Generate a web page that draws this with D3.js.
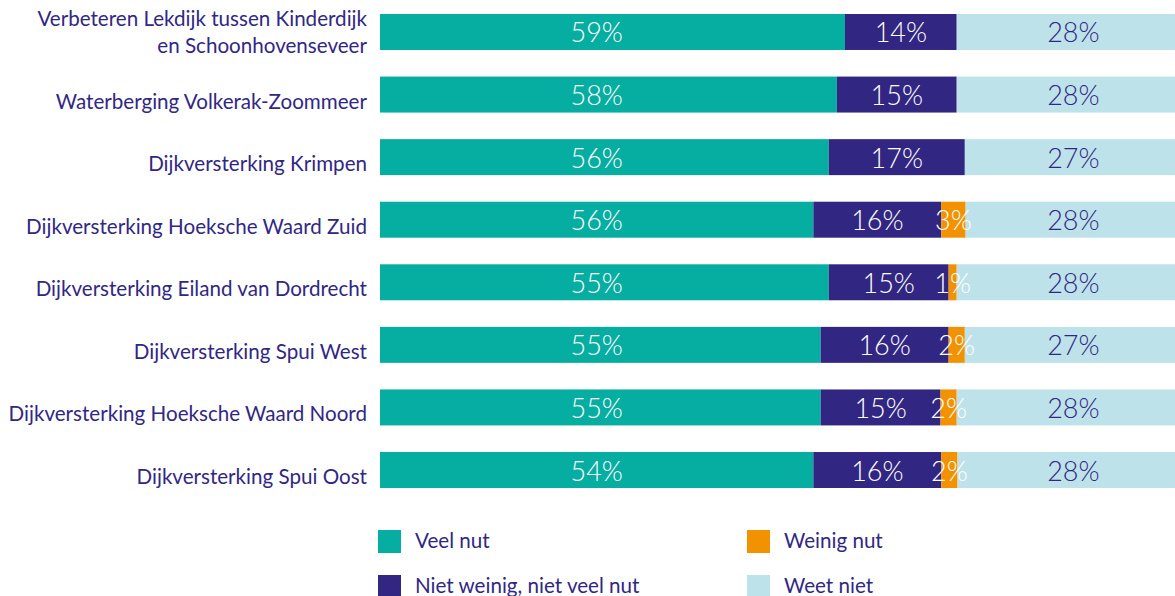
<!DOCTYPE html>
<html><head><meta charset="utf-8">
<script src="https://cdn.jsdelivr.net/npm/d3@7"></script>
<style>
html,body{margin:0;padding:0;background:#fff;overflow:hidden;}
svg{display:block;}
text{font-family:Lato,"Open Sans",sans-serif;}
</style></head>
<body>
<script>
const categories = [
  "Verbeteren Lekdijk tussen Kinderdijk\nen Schoonhovenseveer",
  "Waterberging Volkerak-Zoommeer",
  "Dijkversterking Krimpen",
  "Dijkversterking Hoeksche Waard Zuid",
  "Dijkversterking Eiland van Dordrecht",
  "Dijkversterking Spui West",
  "Dijkversterking Hoeksche Waard Noord",
  "Dijkversterking Spui Oost"
];
const seriesNames = ["Veel nut", "Niet weinig, niet veel nut", "Weinig nut", "Weet niet"];
const veelNut   = [57.4, 56.4, 55.4, 53.5, 55.4, 54.4, 54.4, 53.5];
const nietNiet  = [13.8, 14.8, 16.8, 15.8, 14.8, 15.8, 14.8, 15.8];
const weinigNut = [0,    0,    0,    3.0,  1.0,  2.0,  2.0,  2.0];
const weetNiet  = [28.8, 28.8, 27.8, 27.8, 28.8, 27.8, 28.8, 28.8];
const labVeel   = ["59%","58%","56%","56%","55%","55%","55%","54%"];
const labNiet   = ["14%","15%","17%","16%","15%","16%","15%","16%"];
const labWeinig = ["","","","3%","1%","2%","2%","2%"];
const labWeet   = ["28%","28%","27%","28%","28%","27%","28%","28%"];

const colors = ["#06ada1", "#312783", "#f39200", "#bee2e9"];
const labelColors = ["#ffffff", "#ffffff", "#ffffff", "#312783"];
const W = 1175, H = 596;

const svg = d3.select("body").append("svg").attr("width", W).attr("height", H);

const x = d3.scaleLinear().domain([0, 100]).range([380, 1190]);
const y = d3.scaleBand().domain(categories).range([14, 488]).paddingInner(0.425).paddingOuter(0);

const series = [veelNut, nietNiet, weinigNut, weetNiet];
const labels = [labVeel, labNiet, labWeinig, labWeet];
const rows = categories.map((c, i) => {
  const o = {cat: c};
  seriesNames.forEach((s, k) => o[s] = series[k][i]);
  return o;
});
const stacked = d3.stack().keys(seriesNames)(rows);

stacked.forEach((layer, k) => {
  const g = svg.append("g");
  g.selectAll("rect").data(layer).join("rect")
    .attr("x", d => x(d[0]))
    .attr("y", d => y(d.data.cat))
    .attr("width", d => x(d[1]) - x(d[0]))
    .attr("height", y.bandwidth())
    .attr("fill", colors[k]);
});

// first and last series labels sit in a common column
const firstEnd = d3.min(stacked[0], d => d[1]);
const lastStart = d3.min(stacked[3], d => d[0]);
function labelX(d, k) {
  if (k === 0) return (x(0) + x(firstEnd)) / 2;
  if (k === 3) return (x(lastStart) + x(100)) / 2;
  return (x(d[0]) + x(d[1])) / 2;
}
stacked.forEach((layer, k) => {
  const g = svg.append("g");
  g.selectAll("text").data(layer).join("text")
    .attr("x", d => labelX(d, k))
    .attr("y", d => y(d.data.cat) + y.bandwidth() / 2 + 10.5)
    .attr("text-anchor", "middle")
    .attr("fill", labelColors[k])
    .style("font-size", "27px")
    .style("font-weight", 300)
    .text((d, i) => labels[k][i]);
});

// category labels
const cg = svg.append("g");
categories.forEach(c => {
  const lines = c.split("\n");
  const cy = y(c) + y.bandwidth() / 2;
  const t = cg.append("text")
    .attr("text-anchor", "end")
    .attr("fill", "#312783")
    .style("font-size", "20.6px");
  lines.forEach((l, j) => {
    t.append("tspan").attr("x", 367)
      .attr("y", cy + 14 - (lines.length - 1) * 19.5 + j * 26.7)
      .text(l);
  });
});

// legend
const legendPos = [[378, 530], [378, 575], [747, 530], [747, 575]];
const lg = svg.append("g");
seriesNames.forEach((s, k) => {
  const [lx, ly] = legendPos[k];
  lg.append("rect").attr("x", lx).attr("y", ly).attr("width", 23).attr("height", 23).attr("fill", colors[k]);
  lg.append("text").attr("x", lx + 37).attr("y", ly + 17.7)
    .attr("fill", "#312783").style("font-size", "20.6px").text(s);
});
</script>
</body></html>
